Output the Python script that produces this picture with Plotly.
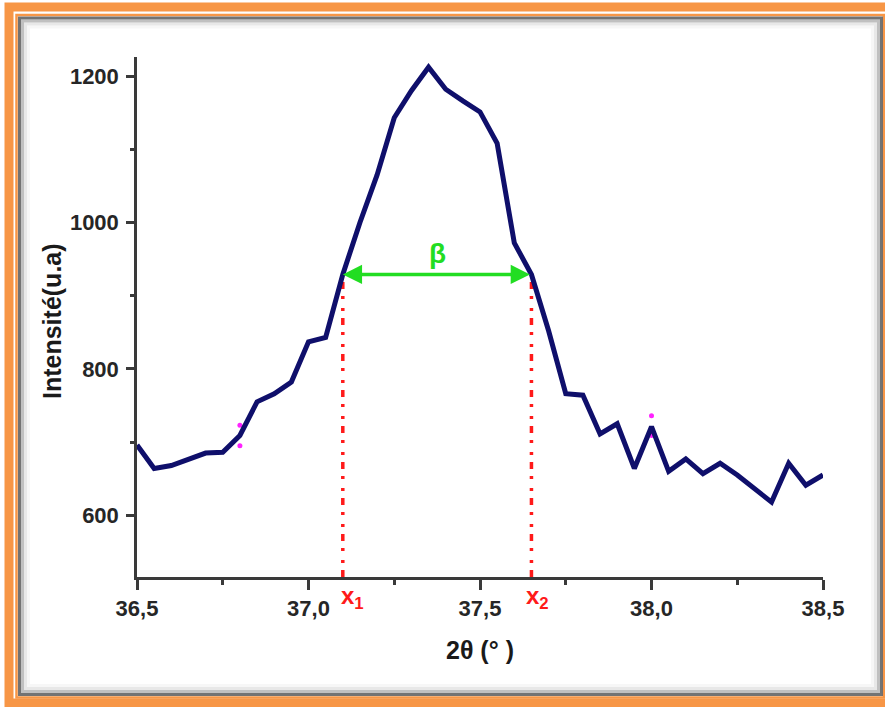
import plotly.graph_objects as go

# ---- data ----
two_theta = [36.50, 36.55, 36.60, 36.65, 36.70, 36.75, 36.80, 36.85, 36.90, 36.95,
             37.00, 37.05, 37.10, 37.15, 37.20, 37.25, 37.30, 37.35, 37.40, 37.45,
             37.50, 37.55, 37.60, 37.65, 37.70, 37.75, 37.80, 37.85, 37.90, 37.95,
             38.00, 38.05, 38.10, 38.15, 38.20, 38.25, 38.30, 38.35, 38.40, 38.45,
             38.50]
intensity = [696, 664, 668, 677, 685, 686, 709, 755, 766, 782,
             837, 843, 929, 1000, 1065, 1143, 1180, 1212, 1182, 1166,
             1151, 1108, 972, 929, 852, 766, 764, 711, 725, 664,
             721, 660, 677, 657, 671, 655, 637, 618, 671, 641,
             655]
marker_x = [36.8, 36.8, 38.0, 38.0]
marker_y = [723, 695, 736, 709]

x1_pos = 37.1
x2_pos = 37.65
half_max = 929
beta_label_y = 958

x_tickvals = [36.5, 37.0, 37.5, 38.0, 38.5]
x_ticktext = ["36,5", "37,0", "37,5", "38,0", "38,5"]
y_tickvals = [600, 800, 1000, 1200]
y_ticktext = ["600", "800", "1000", "1200"]
x_range = [36.5, 38.5]
y_range = [515.7, 1226]

FONT = "Arial, Liberation Sans, sans-serif"
NAVY = "#0f0f6b"
RED = "#ff1a1a"
GREEN = "#22dd22"
ORANGE = "#f79646"
AXC = "#3a3a3a"

W, H = 885, 707
ML, MR, MT, MB = 137, 62, 57, 130
PW, PH = W - ML - MR, H - MT - MB


def px(xp):
    return (xp - ML) / PW


def py(yp):
    return (H - MB - yp) / PH


fig = go.Figure()

# magenta small markers
fig.add_trace(go.Scatter(x=marker_x, y=marker_y, mode="markers",
                         marker=dict(color="#ff22ff", size=5),
                         showlegend=False, hoverinfo="skip"))

# red dash-dot verticals
for xv in (x1_pos, x2_pos):
    fig.add_trace(go.Scatter(x=[xv, xv], y=[y_range[0], half_max], mode="lines",
                             line=dict(color=RED, width=3.5,
                                       dash="7px,7px,3px,9px,3px,7px"),
                             showlegend=False, hoverinfo="skip"))

# main curve
fig.add_trace(go.Scatter(x=two_theta, y=intensity, mode="lines",
                         line=dict(color=NAVY, width=5),
                         showlegend=False))

annotations = [
    # double-headed green arrow
    dict(x=x1_pos, y=half_max, ax=x2_pos, ay=half_max, xref="x", yref="y",
         axref="x", ayref="y", text="", showarrow=True, arrowhead=2,
         startarrowhead=2, arrowside="end+start", arrowsize=1.1,
         startarrowsize=1.1, arrowwidth=3.5, arrowcolor=GREEN,
         standoff=0, startstandoff=0),
    dict(x=(x1_pos + x2_pos) / 2, y=beta_label_y, xref="x", yref="y",
         xanchor="center", yanchor="middle",
         text="<b>β</b>", showarrow=False,
         font=dict(family=FONT, size=28, color=GREEN)),
    dict(x=x1_pos, y=0, xref="x", yref="paper", xanchor="left", yanchor="top",
         xshift=-4, yshift=-3, text="<b>x<sub>1</sub></b>", showarrow=False,
         font=dict(family=FONT, size=24, color=RED)),
    dict(x=x2_pos, y=0, xref="x", yref="paper", xanchor="left", yanchor="top",
         xshift=-7, yshift=-3, text="<b>x<sub>2</sub></b>", showarrow=False,
         font=dict(family=FONT, size=24, color=RED)),
    # axis titles
    dict(x=px(52), y=py(321), xref="paper", yref="paper", text="<b>Intensité(u.a)</b>",
         xanchor="center", yanchor="middle",
         textangle=-90, showarrow=False,
         font=dict(family=FONT, size=25, color="#1a1a1a")),
    dict(x=px(480), y=py(650), xref="paper", yref="paper", text="<b>2θ (° )</b>",
         xanchor="center", yanchor="middle",
         showarrow=False, font=dict(family=FONT, size=25, color="#1a1a1a")),
]

shapes = [
    dict(type="rect", xref="paper", yref="paper", x0=px(9), y0=py(7), x1=px(896), y1=py(703),
         line=dict(color=ORANGE, width=9), layer="above"),
    dict(type="rect", xref="paper", yref="paper", x0=px(16.5), y0=py(15), x1=px(884), y1=py(697.5),
         line=dict(color=ORANGE, width=2.5), layer="above"),
    dict(type="rect", xref="paper", yref="paper", x0=px(19.5), y0=py(18), x1=px(881.5), y1=py(694.5),
         line=dict(color="rgba(80,80,80,0.8)", width=3), layer="above"),
    dict(type="rect", xref="paper", yref="paper", x0=px(22.5), y0=py(21), x1=px(878.5), y1=py(691.5),
         line=dict(color="rgba(130,130,130,0.5)", width=3), layer="above"),
    dict(type="rect", xref="paper", yref="paper", x0=px(25.5), y0=py(24), x1=px(875.5), y1=py(688.5),
         line=dict(color="rgba(180,180,180,0.3)", width=3), layer="above"),
    dict(type="rect", xref="paper", yref="paper", x0=px(28.5), y0=py(27), x1=px(872.5), y1=py(685.5),
         line=dict(color="rgba(215,215,215,0.2)", width=3), layer="above"),
]

axis_common = dict(showgrid=False, zeroline=False, showline=True, linecolor=AXC,
                   linewidth=2.5, ticks="outside", tickcolor=AXC, tickwidth=2.5)

fig.update_layout(
    width=W, height=H, autosize=False,
    margin=dict(l=ML, r=MR, t=MT, b=MB, pad=0),
    paper_bgcolor="white", plot_bgcolor="white",
    showlegend=False,
    xaxis=dict(range=x_range, tickvals=x_tickvals,
               ticktext=["<b>%s</b>" % t for t in x_ticktext], ticklen=10,
               minor=dict(dtick=0.25, tick0=36.5, ticklen=5, ticks="outside",
                          tickcolor=AXC, tickwidth=2.5),
               tickfont=dict(family=FONT, size=22, color="#262626"),
               **axis_common),
    yaxis=dict(range=y_range, tickvals=y_tickvals,
               ticktext=["<b>%s</b>" % t for t in y_ticktext], ticklen=8,
               ticklabelstandoff=3,
               minor=dict(tickvals=[700, 900, 1100], ticklen=4, ticks="outside",
                          tickcolor=AXC, tickwidth=2.5),
               tickfont=dict(family=FONT, size=22, color="#262626"),
               **axis_common),
    annotations=annotations,
    shapes=shapes,
)

fig.write_html("out.html", config={"displayModeBar": False},
               post_script="document.body.style.margin='0';document.body.style.overflow='hidden';")
